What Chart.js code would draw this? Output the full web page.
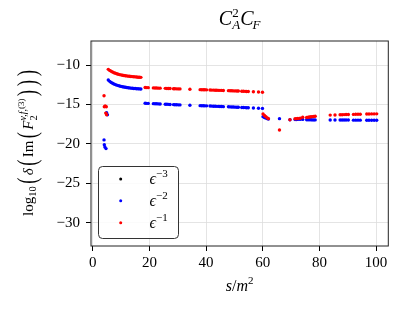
<!DOCTYPE html>
<html>
<head>
<meta charset="utf-8">
<script src="https://cdn.jsdelivr.net/npm/chart.js@4.4.1/dist/chart.umd.min.js"></script>
<style>
  body { margin: 0; background: #fff; }
  canvas { display: block; }
</style>
</head>
<body>
<canvas id="c" width="410" height="313"></canvas>
<script>
// tick values
const xTicks = [0, 20, 40, 60, 80, 100];
const yTicks = [-10, -15, -20, -25, -30];

// points close to threshold s/m^2 = 4
const thrRedX = [4.0, 4.1, 4.4, 4.8, 4.6, 4.9];
const thrRedY = [-13.9, -15.3, -15.2, -15.3, -16.1, -16.3];
const thrBlueX = [4.0, 4.1, 4.3, 4.7, 4.9, 5.2];
const thrBlueY = [-19.5, -20.1, -20.4, -20.6, -16.05, -16.3];

// common s/m^2 values
const sX = [5.5, 6.0, 6.5, 7.0, 7.5, 8.0, 8.5, 9.0, 9.5, 10.0, 10.5, 11.0, 11.5, 12.0, 12.5, 13.0, 13.5, 14.0, 14.5, 15.0, 15.5, 16.0, 16.5, 17.0,
  18.5, 19.0, 19.6, 21.4, 22.0, 22.6, 23.2, 23.8, 25.6, 26.2, 26.8, 27.3, 28.5, 29.0, 29.6, 30.2, 30.8, 34.3, 37.9, 38.5, 39.1, 39.6, 40.2,
  41.4, 42.0, 42.6, 43.2, 43.8, 44.4, 44.9, 45.5, 46.1, 47.9, 48.5, 49.1, 49.7, 50.3, 50.9, 51.4, 52.6, 53.2, 53.8, 54.3, 54.9, 56.7, 58.5, 59.9,
  60.1, 60.6, 61.1, 61.6, 62.0, 65.9, 69.6, 71.4, 71.9, 72.4, 73.2, 74.1, 75.5, 76.0, 76.5, 77.0, 77.5, 78.0, 78.5,
  83.8, 85.5, 87.3, 88.0, 88.7, 89.4, 90.2, 92.0, 92.8, 93.6, 94.4, 96.7, 97.5, 98.4, 99.3, 100.2];

// eps^-1
const redY = [-10.55, -10.68, -10.79, -10.89, -10.97, -11.04, -11.1, -11.16, -11.21, -11.25, -11.29, -11.32, -11.35, -11.38, -11.41, -11.43, -11.45, -11.47, -11.49, -11.5, -11.52, -11.54, -11.55, -11.56,
  -12.85, -12.86, -12.87, -12.9, -12.91, -12.92, -12.93, -12.93, -12.96, -12.97, -12.98, -12.98, -13.0, -13.01, -13.02, -13.03, -13.03, -13.08, -13.12, -13.13, -13.14, -13.14, -13.15,
  -13.17, -13.18, -13.18, -13.19, -13.2, -13.21, -13.21, -13.22, -13.23, -13.25, -13.26, -13.27, -13.28, -13.28, -13.29, -13.3, -13.32, -13.33, -13.34, -13.35, -13.36, -13.39, -13.42, -13.45,
  -16.2, -16.4, -16.55, -16.7, -16.8, -18.25, -16.95, -16.82, -16.8, -16.78, -16.75, -16.62, -16.66, -16.62, -16.6, -16.57, -16.55, -16.52, -16.5,
  -16.35, -16.33, -16.3, -16.3, -16.29, -16.28, -16.28, -16.26, -16.25, -16.25, -16.24, -16.22, -16.21, -16.2, -16.2, -16.19];

// eps^-2
const blueY = [-11.9, -12.07, -12.2, -12.31, -12.4, -12.48, -12.55, -12.61, -12.66, -12.71, -12.75, -12.79, -12.82, -12.85, -12.88, -12.9, -12.93, -12.95, -12.97, -12.98, -13.0, -13.01, -13.03, -13.04,
  -14.85, -14.86, -14.87, -14.9, -14.91, -14.92, -14.93, -14.94, -14.97, -14.98, -14.99, -15.0, -15.02, -15.03, -15.04, -15.05, -15.06, -15.1, -15.15, -15.16, -15.17, -15.18, -15.18,
  -15.2, -15.21, -15.22, -15.23, -15.24, -15.25, -15.26, -15.27, -15.28, -15.3, -15.31, -15.32, -15.33, -15.34, -15.35, -15.36, -15.38, -15.39, -15.4, -15.41, -15.42, -15.45, -15.48, -15.5,
  -16.55, -16.65, -16.72, -16.8, -16.85, -16.8, -16.95, -16.92, -16.92, -16.9, -16.9, -16.9, -16.95, -16.95, -16.95, -16.95, -16.96, -16.96, -16.96,
  -16.97, -16.97, -16.98, -16.98, -16.98, -16.98, -16.98, -16.99, -16.99, -16.99, -16.99, -17.0, -17.0, -17.0, -17.0, -17.0];

// eps^-3: nothing visible
const blackX = [];
const blackY = [];

const seriesExp = ['\u22123', '\u22122', '\u22121'];
const seriesColors = ['#000000', '#0000ff', '#ff0000'];

const FONT = '"Liberation Serif", "DejaVu Serif", serif';

function pts(xs, ys) {
  return xs.map((x, i) => ({ x: x, y: ys[i] }));
}

// text with sub/superscripts: [text, size, dy, italic, stackOnPrev, gapAfter, vScale]
function drawRich(ctx, parts, cx, cy, rot) {
  ctx.save();
  ctx.translate(cx, cy);
  if (rot) ctx.rotate(rot);
  let x = 0, lastStart = 0;
  const pos = [];
  parts.forEach(p => {
    ctx.font = (p[3] ? 'italic ' : '') + p[1] + 'px ' + FONT;
    const w = ctx.measureText(p[0]).width;
    if (p[4]) {
      pos.push(lastStart);
      x = Math.max(x, lastStart + w);
    } else {
      lastStart = x;
      pos.push(x);
      x += w;
    }
    x += p[5] || 0;
  });
  ctx.fillStyle = '#000';
  ctx.textBaseline = 'alphabetic';
  ctx.textAlign = 'left';
  parts.forEach((p, i) => {
    ctx.font = (p[3] ? 'italic ' : '') + p[1] + 'px ' + FONT;
    ctx.save();
    ctx.translate(pos[i] - x / 2, p[2]);
    if (p[6]) ctx.scale(1, p[6]);
    ctx.fillText(p[0], 0, 0);
    ctx.restore();
  });
  ctx.restore();
}

const decor = {
  id: 'decor',
  afterDatasetsDraw(chart) {
    const ctx = chart.ctx, a = chart.chartArea;
    ctx.save();
    ctx.strokeStyle = '#222';
    ctx.lineWidth = 1;
    ctx.strokeRect(a.left, a.top, a.right - a.left, a.bottom - a.top);
    ctx.restore();
  },
  afterDraw(chart) {
    const ctx = chart.ctx, a = chart.chartArea;
    const cx = (a.left + a.right) / 2;

    // title
    drawRich(ctx, [
      ['C', 20, 0, true], ['2', 13, -8, false], ['A', 13, 4, true, true],
      ['C', 20, 0, true, false, -1], ['F', 13, 4, true]
    ], cx, 25);

    // x label
    drawRich(ctx, [
      ['s', 16, 0, true], ['/', 16, 0, false], ['m', 16, 0, true], ['2', 11, -7, false]
    ], cx, 291);

    // y label
    drawRich(ctx, [
      ['log', 15, 0, false], ['10', 10.5, 3, false, false, 2.5], ['(', 18, 3, false, false, 2.5, 1.5],
      ['\u03b4', 15, 0, true, false, 2.5], ['(', 18, 3, false, false, 2.5, 1.5], ['Im', 15, 0, false, false, 2.5],
      ['(', 18, 3, false, false, 2.5, 1.5],
      ['F', 15, 0, true], ['v,f,', 10, -7, true], ['2', 10.5, 4, false, true], ['(3)', 9, -9, false, false, 2.5],
      [')', 18, 3, false, false, 4, 1.5], [')', 18, 3, false, false, 4, 1.5], [')', 18, 3, false, false, 0, 1.5]
    ], 33, 143, -Math.PI / 2);

    // legend box
    const bx = 98.5, by = 166.5, bw = 80, bh = 72, r = 4;
    ctx.save();
    ctx.beginPath();
    ctx.moveTo(bx + r, by);
    ctx.arcTo(bx + bw, by, bx + bw, by + bh, r);
    ctx.arcTo(bx + bw, by + bh, bx, by + bh, r);
    ctx.arcTo(bx, by + bh, bx, by, r);
    ctx.arcTo(bx, by, bx + bw, by, r);
    ctx.closePath();
    ctx.fillStyle = 'rgba(255,255,255,0.85)';
    ctx.fill();
    ctx.strokeStyle = '#333';
    ctx.lineWidth = 1;
    ctx.stroke();
    const rows = [179, 200.7, 222.7];
    rows.forEach((y, i) => {
      ctx.beginPath();
      ctx.arc(120.7, y, 1.5, 0, Math.PI * 2);
      ctx.fillStyle = seriesColors[i];
      ctx.fill();
    });
    ctx.restore();
    rows.forEach((y, i) => {
      const parts = [['\u03f5', 16, 0, true], [seriesExp[i], 11, -7, false]];
      ctx.save();
      ctx.font = 'italic 16px ' + FONT;
      const w1 = ctx.measureText('\u03f5').width;
      ctx.font = '11px ' + FONT;
      const w2 = ctx.measureText(seriesExp[i]).width;
      ctx.restore();
      drawRich(ctx, parts, 149.5 + (w1 + w2) / 2, y + 5);
    });
  }
};

const gridOpts = {
  color: '#dddddd',
  lineWidth: 0.8,
  tickColor: '#000',
  tickLength: 5,
  tickWidth: 1
};

new Chart(document.getElementById('c'), {
  type: 'scatter',
  data: {
    datasets: [
      { label: '\u03f5^\u22123', data: pts(blackX, blackY), backgroundColor: seriesColors[0], order: 3 },
      { label: '\u03f5^\u22122', data: pts(thrBlueX, thrBlueY).concat(pts(sX, blueY)), backgroundColor: seriesColors[1], order: 2 },
      { label: '\u03f5^\u22121', data: pts(thrRedX, thrRedY).concat(pts(sX, redY)), backgroundColor: seriesColors[2], order: 1 }
    ]
  },
  options: {
    responsive: false,
    animation: false,
    devicePixelRatio: 1,
    layout: { padding: { top: 41, right: 21.7, left: 0, bottom: 0 } },
    elements: { point: { radius: 1.7, borderWidth: 0, hoverRadius: 1.7 } },
    plugins: {
      legend: { display: false },
      title: { display: false },
      tooltip: { enabled: false }
    },
    scales: {
      x: {
        type: 'linear',
        min: -0.6,
        max: 104.3,
        afterBuildTicks: s => { s.ticks = xTicks.map(v => ({ value: v })); },
        afterFit: s => { s.height = 313 - 246; },
        grid: gridOpts,
        border: { display: false },
        ticks: { color: '#000', font: { family: FONT, size: 15 }, padding: 3, maxRotation: 0 }
      },
      y: {
        type: 'linear',
        min: -32.96,
        max: -6.95,
        afterBuildTicks: s => { s.ticks = yTicks.map(v => ({ value: v })); },
        afterFit: s => { s.width = 91; },
        grid: gridOpts,
        border: { display: false },
        ticks: {
          color: '#000', font: { family: FONT, size: 15 }, padding: 6,
          callback: v => String(v).replace('-', '\u2212')
        }
      }
    }
  },
  plugins: [decor]
});
</script>
</body>
</html>
